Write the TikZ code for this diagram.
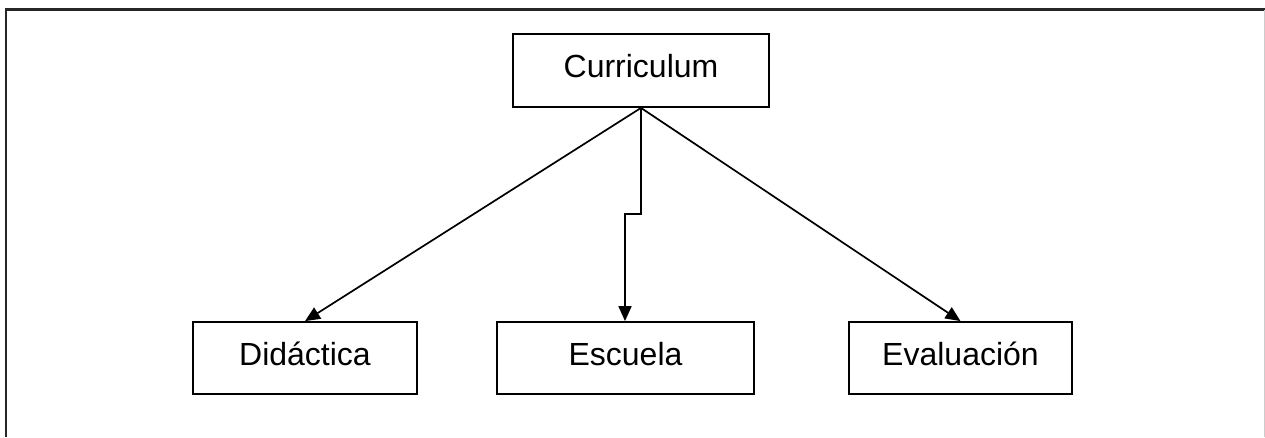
\documentclass[tikz,border=0pt]{standalone}
\usepackage{fontspec}
\setmainfont{Liberation Sans}
\usetikzlibrary{arrows.meta}
\begin{document}
\begin{tikzpicture}[x=1pt,y=-1pt,
  box/.style={draw=black,line width=1.8pt,rectangle,inner sep=0pt,
    minimum height=72pt,text height=22pt,text depth=8pt,
    font=\fontsize{32}{38}\selectfont},
  link/.style={draw=black,line width=1.7pt,
    -{Triangle[length=15pt,width=13pt]}},
  frameline/.style={draw=black!85,line width=2.6pt}]
\useasboundingbox (0,0) rectangle (1265,437);
% open frame: left and top edges, faint right edge
\draw[frameline] (6,437) -- (6,9.5) -- (1265,9.5);
\draw[black!20,line width=1pt] (1264.5,9.5) -- (1264.5,437);
% boxes
\node[box,minimum width=256pt,minimum height=73pt] (cur) at (641,70.5) {Curriculum};
\node[box,minimum width=224pt] (did) at (305,358) {Didáctica};
\node[box,minimum width=257pt] (esc) at (625.5,358) {Escuela};
\node[box,minimum width=223pt] (eva) at (960.5,358) {Evaluación};
% connectors
\coordinate (bend) at (625,214);
\draw[link] (cur.south) -- (did.north);
\draw[link] (cur.south) |- (bend) -- (bend |- esc.north);
\draw[link] (cur.south) -- (eva.north);
\end{tikzpicture}
\end{document}
